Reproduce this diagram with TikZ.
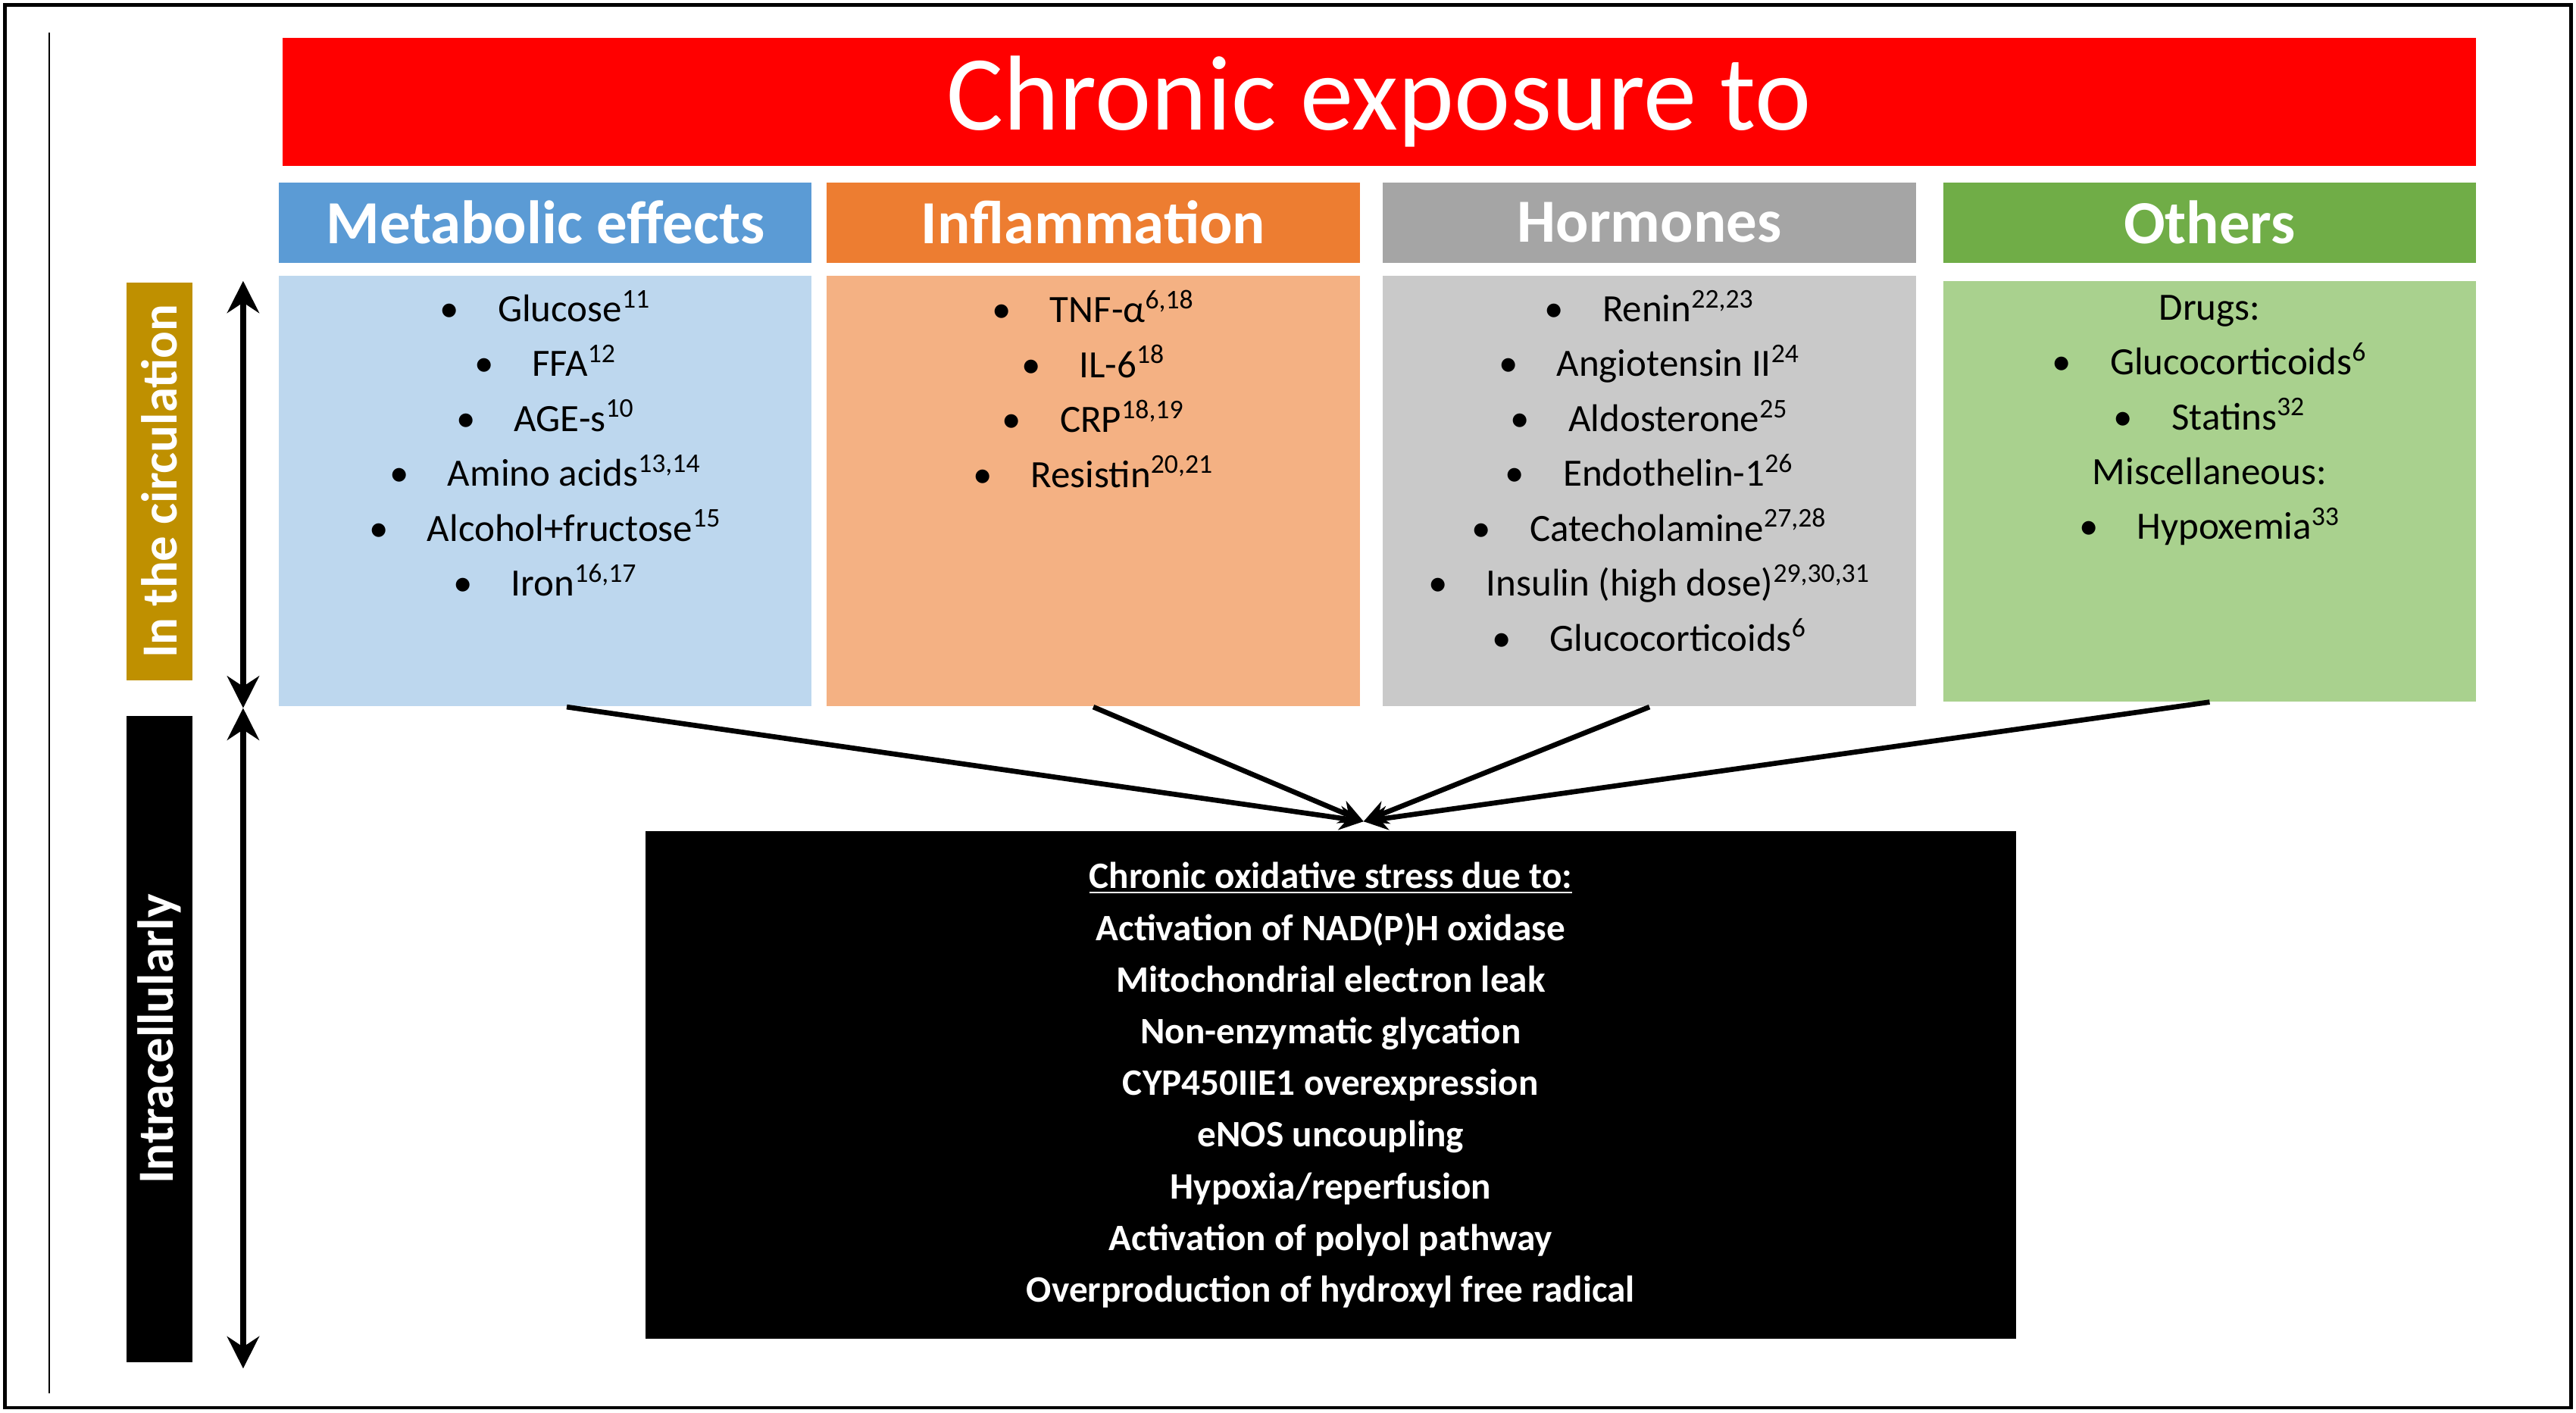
\documentclass[tikz,border=0pt]{standalone}
\usepackage{fontspec}
\setmainfont{Carlito}
\usetikzlibrary{arrows.meta,positioning}
\definecolor{redbar}{HTML}{FF0000}
\definecolor{metaH}{HTML}{5B9BD5}
\definecolor{metaL}{HTML}{BDD7EE}
\definecolor{inflH}{HTML}{ED7D31}
\definecolor{inflL}{HTML}{F4B183}
\definecolor{hormH}{HTML}{A5A5A5}
\definecolor{hormL}{HTML}{C9C9C9}
\definecolor{othH}{HTML}{70AD47}
\definecolor{othL}{HTML}{A9D18E}
\definecolor{gold}{HTML}{BF9000}
\tikzset{
  head/.style={fill=#1, minimum width=70.3mm, minimum height=10.6mm, inner sep=0pt,
    text=white, font=\fontsize{23}{26}\selectfont\bfseries},
  panel/.style={fill=#1, minimum width=70.3mm, minimum height=56.8mm, inner sep=0pt},
  items/.style={anchor=north, align=center, font=\fontsize{14.5}{20.6}\selectfont},
  side/.style={fill=#1, minimum height=8.7mm, inner sep=0pt, rotate=90, text=white,
    font=\fontsize{19}{22}\selectfont\bfseries},
  span/.style={line width=2.4pt, {Stealth[length=12pt,width=12pt]}-{Stealth[length=12pt,width=12pt]}},
  feed/.style={line width=1.9pt, -{Stealth[length=9pt,width=9pt]}}
}
\newcommand{\sref}[1]{\textsuperscript{#1}}
\begin{document}
\begin{tikzpicture}[x=0.2168mm,y=-0.2168mm]
\useasboundingbox (0,0) rectangle (1568,860);
\draw[line width=1.2pt] (3,3) rectangle (1565,857);
\draw[line width=0.8pt] (30,20) -- (30,848);
% title bar
\node[fill=redbar, minimum width=289.4mm, minimum height=16.9mm, inner sep=0pt, text=white,
  font=\fontsize{40}{44}\selectfont] (title) at (839.5,62) {Chronic exposure to};
% column headers
\node[head=metaH] (hmeta) at (332,135.5) {Metabolic effects};
\node[head=inflH] (hinfl) at (665.5,135.5) {Inflammation};
\node[head=hormH] (hhorm) at (1004,135.5) {Hormones};
\node[head=othH] (hoth) at (1345,135.5) {Others};
% panels
\node[panel=metaL] (meta) at (332,299) {};
\node[panel=inflL] (infl) at (665.5,299) {};
\node[panel=hormL] (horm) at (1004,299) {};
\node[panel=othL, minimum height=55.5mm] (oth) at (1345,299) {};
\node[items] (tmeta) at ([yshift=-2pt]meta.north) {%
  \textbullet\quad Glucose\sref{11}\\ \textbullet\quad FFA\sref{12}\\
  \textbullet\quad AGE-s\sref{10}\\ \textbullet\quad Amino acids\sref{13,14}\\
  \textbullet\quad Alcohol+fructose\sref{15}\\ \textbullet\quad Iron\sref{16,17}};
\node[items] (tinfl) at ([yshift=-2pt]infl.north) {%
  \textbullet\quad TNF-α\sref{6,18}\\ \textbullet\quad IL-6\sref{18}\\
  \textbullet\quad CRP\sref{18,19}\\ \textbullet\quad Resistin\sref{20,21}};
\node[items] (thorm) at ([yshift=-2pt]horm.north) {%
  \textbullet\quad Renin\sref{22,23}\\ \textbullet\quad Angiotensin II\sref{24}\\
  \textbullet\quad Aldosterone\sref{25}\\ \textbullet\quad Endothelin-1\sref{26}\\
  \textbullet\quad Catecholamine\sref{27,28}\\ \textbullet\quad Insulin (high dose)\sref{29,30,31}\\
  \textbullet\quad Glucocorticoids\sref{6}};
\node[items] (toth) at ([yshift=-2pt]oth.north) {%
  Drugs:\\ \textbullet\quad Glucocorticoids\sref{6}\\ \textbullet\quad Statins\sref{32}\\
  Miscellaneous:\\ \textbullet\quad Hypoxemia\sref{33}};
% side labels
\node[side=gold, minimum width=52.5mm] (circ) at (97,293) {In the circulation};
\node[side=black, minimum width=85.2mm] (intra) at (97,632.5) {Intracellularly};
\coordinate (top) at (148,171);
\coordinate (mid) at (148,431);
\coordinate (bot) at (148,833);
\draw[span] (top) -- (mid);
\draw[span] (mid) -- (bot);
% oxidative stress box
\node[fill=black, minimum width=180.8mm, minimum height=67mm, inner sep=0pt, text=white,
  align=center, font=\fontsize{14}{19.4}\selectfont\bfseries] (ox) at (810,660.5) {%
  \underline{Chronic oxidative stress due to:}\\ Activation of NAD(P)H oxidase\\
  Mitochondrial electron leak\\ Non-enzymatic glycation\\ CYP450IIE1 overexpression\\
  eNOS uncoupling\\ Hypoxia/reperfusion\\ Activation of polyol pathway\\
  Overproduction of hydroxyl free radical};
\coordinate (tip) at (830,500);
\draw[feed] ([xshift=8pt]meta.south) -- (tip);
\draw[feed] (infl.south) -- (tip);
\draw[feed] (horm.south) -- (tip);
\draw[feed] (oth.south) -- (tip);
\end{tikzpicture}
\end{document}
